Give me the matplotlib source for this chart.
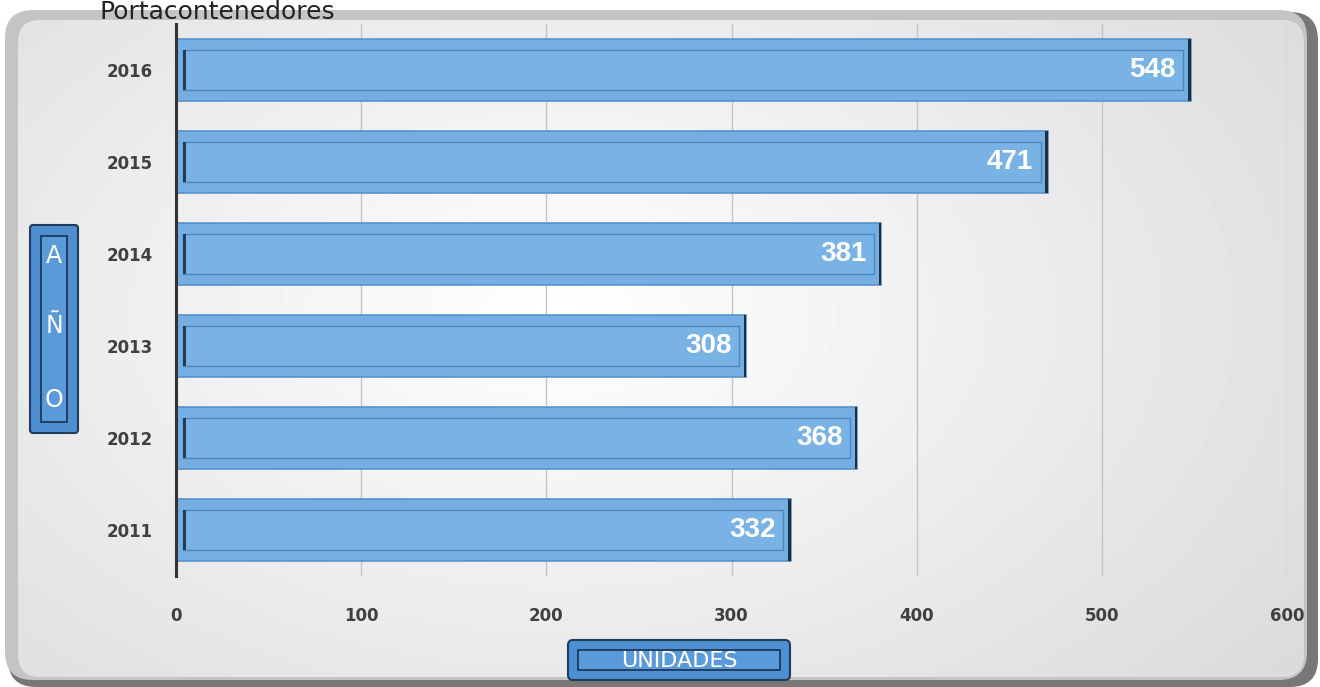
import numpy as np
import matplotlib.pyplot as plt
from matplotlib.patches import FancyBboxPatch

# --- data ---
years = ['2011', '2012', '2013', '2014', '2015', '2016']
units = [332, 368, 308, 381, 471, 548]
x_ticks = [0, 100, 200, 300, 400, 500, 600]

title = 'Portacontenedores'
x_title = 'UNIDADES'
y_letters = ['A', 'Ñ', 'O']

W, H = 1320, 687
fig = plt.figure(figsize=(W / 100, H / 100), dpi=100)
fig.patch.set_facecolor('white')

# --- rounded frame with shadow ---
bg = fig.add_axes([0, 0, 1, 1])
bg.set_xlim(0, W)
bg.set_ylim(H, 0)
bg.axis('off')
bg.add_patch(FancyBboxPatch((8, 12), W - 10, H - 12, boxstyle='round,pad=0,rounding_size=28',
                            facecolor='#777777', edgecolor='none'))
bg.add_patch(FancyBboxPatch((5, 10), W - 18, H - 17, boxstyle='round,pad=0,rounding_size=28',
                            facecolor='#c4c4c4', edgecolor='none'))
# panel gradient: bright middle, greyer towards the edges
yy, xx = np.mgrid[0:1:200j, 0:1:400j]
glow = np.clip(1 - np.hypot((xx - 0.42) / 0.8, (yy - 0.45) / 1.0), 0, 1)
shade = 0.84 + 0.16 * glow
img = bg.imshow(shade, extent=(18, W - 16, H - 10, 20), cmap='gray', vmin=0, vmax=1,
                aspect='auto', zorder=1)
clip = FancyBboxPatch((18, 20), W - 34, H - 30, boxstyle='round,pad=0,rounding_size=22',
                      facecolor='none', edgecolor='none', transform=bg.transData)
bg.add_patch(clip)
img.set_clip_path(clip)

bg.text(100, 19, title, fontsize=18, color='#222222', ha='left', va='baseline', zorder=8)

# --- main axes ---
ax = fig.add_axes([176 / W, 1 - 576 / H, (1287 - 176) / W, 552 / H])
ax.set_facecolor('none')
ypos = np.arange(len(years))
bh = 0.68

ax.barh(ypos, units, height=bh, color='#74aee2', edgecolor='#5a93cc', linewidth=1.2, zorder=3)
# inner bevel
inset = 4
ax.barh(ypos, [u - 2 * inset for u in units], left=inset, height=bh * 0.64,
        color='#79b3e5', edgecolor='#4f85bb', linewidth=1.0, zorder=4)
ax.barh(ypos, [1.2] * len(units), left=inset, height=bh * 0.64,
        color='#223a55', edgecolor='none', zorder=5)
# dark right edge
ax.barh(ypos, [1.5] * len(units), left=[u - 1.5 for u in units], height=bh,
        color='#1f2f40', edgecolor='none', zorder=5)

for y, u in zip(ypos, units):
    ax.text(u - 8, y, str(u), ha='right', va='center', color='white',
            fontsize=20, fontweight='bold', family='Liberation Sans', zorder=6)

ax.set_xlim(0, 600)
ax.set_ylim(-0.5, len(years) - 0.5)
ax.set_xticks(x_ticks)
ax.set_yticks(ypos)
ax.set_yticklabels(years)
ax.grid(axis='x', color='#c4c4c4', linewidth=1, zorder=0)
ax.set_axisbelow(True)
for s in ['top', 'right', 'bottom']:
    ax.spines[s].set_visible(False)
ax.spines['left'].set_color('#333333')
ax.spines['left'].set_linewidth(2.2)
ax.spines['left'].set_zorder(6)
ax.tick_params(axis='both', length=0, labelsize=12, labelcolor='#404040')
ax.tick_params(axis='x', pad=22)
ax.tick_params(axis='y', pad=17)
for lab in ax.get_xticklabels() + ax.get_yticklabels():
    lab.set_fontweight('bold')

# --- axis title boxes ---
bg.add_patch(FancyBboxPatch((30, 225), 48, 208, boxstyle='round,pad=0,rounding_size=3',
                            facecolor='#4d8fd1', edgecolor='#1f3c5c', linewidth=1.5, zorder=5))
bg.add_patch(FancyBboxPatch((41, 236), 26, 186, boxstyle='square,pad=0',
                            facecolor='#5a9ad8', edgecolor='#173150', linewidth=1.2, zorder=6))
for letter, ly in zip(y_letters, [256, 326, 400]):
    bg.text(54, ly, letter, ha='center', va='center', color='white', fontsize=17, zorder=7)

bg.add_patch(FancyBboxPatch((568, 640), 222, 40, boxstyle='round,pad=0,rounding_size=5',
                            facecolor='#4d8fd1', edgecolor='#1f3c5c', linewidth=1.5, zorder=5))
bg.add_patch(FancyBboxPatch((578, 650), 202, 20, boxstyle='square,pad=0',
                            facecolor='#5a9ad8', edgecolor='#173150', linewidth=1.2, zorder=6))
bg.text(679, 661, x_title, ha='center', va='center', color='white', fontsize=16, zorder=7)

fig.savefig('out.png', dpi=100)
